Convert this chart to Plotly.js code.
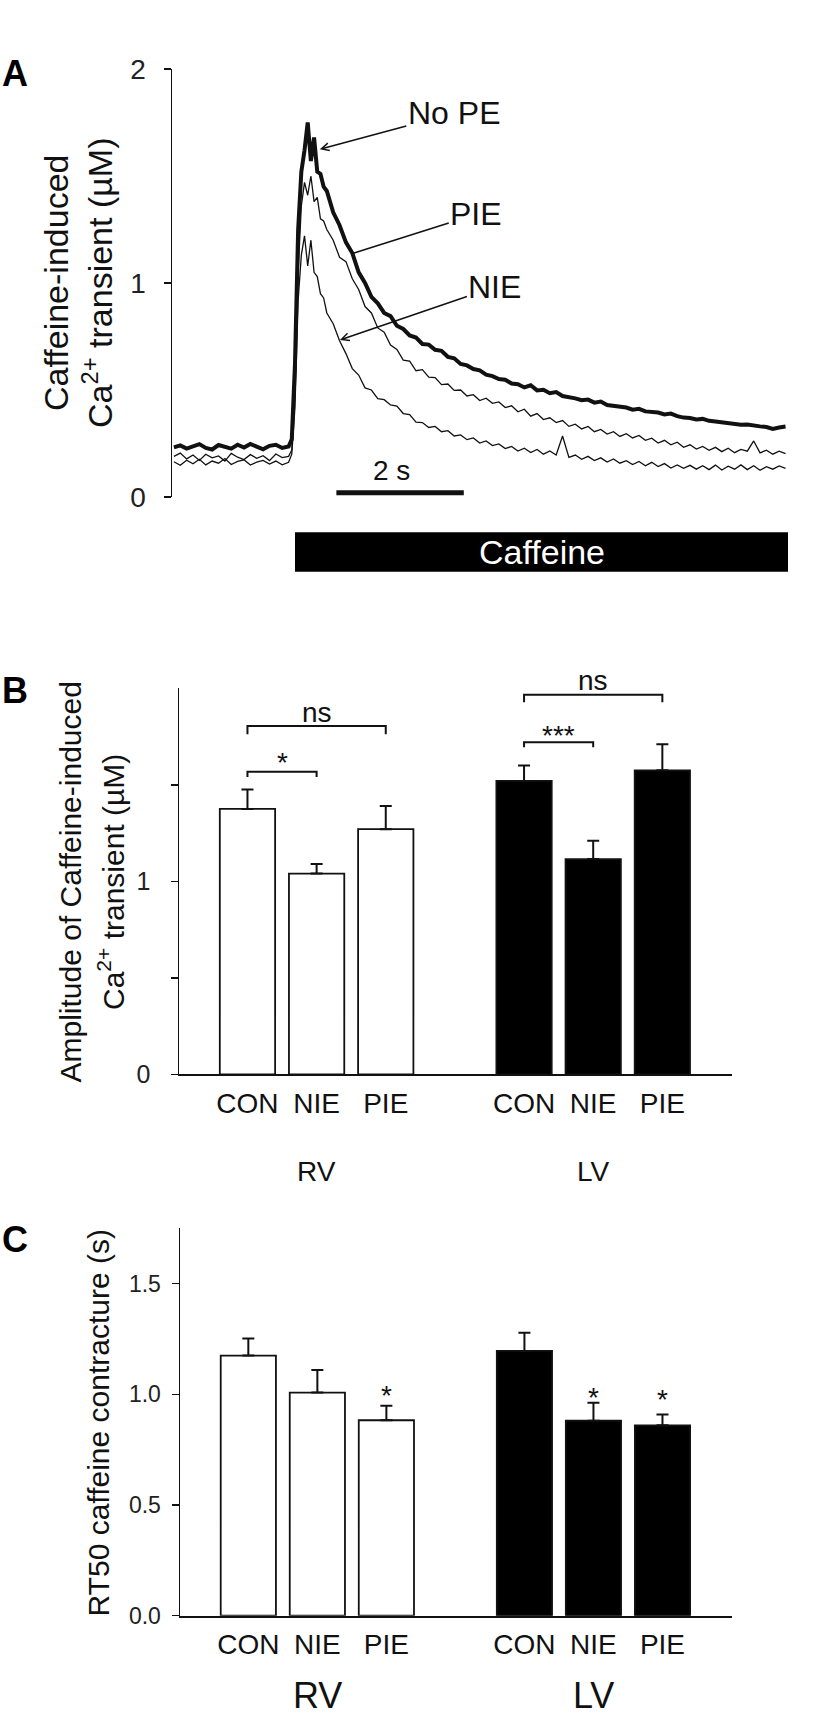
<!DOCTYPE html>
<html>
<head>
<meta charset="utf-8">
<script src="https://cdn.plot.ly/plotly-3.0.1.min.js"></script>
<style>html,body{margin:0;padding:0;background:#fff}</style>
</head>
<body>
<div id="fig" style="width:822px;height:1721px"></div>
<script>
// ---- Panel A: caffeine-induced Ca2+ transients (uM) ----
var timeSec = [0, 0.1, 0.2, 0.3, 0.4, 0.5, 0.6, 0.7, 0.8, 0.9, 1.0, 1.1, 1.2, 1.3, 1.4, 1.5, 1.6, 1.7, 1.8,
  1.85, 1.9, 1.95, 2.0, 2.05, 2.1, 2.15, 2.2, 2.25, 2.3, 2.35,
  2.4, 2.5, 2.6, 2.7, 2.8, 2.9, 3.0, 3.1, 3.2, 3.3, 3.4, 3.5, 3.6, 3.7, 3.8, 3.9,
  4.0, 4.1, 4.2, 4.3, 4.4, 4.5, 4.6, 4.7, 4.8, 4.9, 5.0, 5.1, 5.2, 5.3, 5.4, 5.5, 5.6, 5.7, 5.8, 5.9,
  6.0, 6.1, 6.2, 6.3, 6.4, 6.5, 6.6, 6.7, 6.8, 6.9, 7.0, 7.1, 7.2, 7.3, 7.4, 7.5, 7.6, 7.7, 7.8, 7.9,
  8.0, 8.1, 8.2, 8.3, 8.4, 8.5, 8.6, 8.7, 8.8, 8.9, 9.0, 9.1, 9.2, 9.3, 9.4, 9.5, 9.6];

var noPE = [0.232, 0.241, 0.226, 0.238, 0.247, 0.229, 0.222, 0.243, 0.236, 0.226, 0.244, 0.231, 0.248, 0.234, 0.223, 0.239, 0.244, 0.229, 0.236,
  0.27, 0.62, 1.25, 1.52, 1.62, 1.75, 1.57, 1.68, 1.52, 1.51, 1.45,
  1.43, 1.33, 1.27, 1.19, 1.14, 1.05, 1.0, 0.935, 0.905, 0.86, 0.845, 0.80, 0.785, 0.755, 0.745, 0.715,
  0.712, 0.688, 0.683, 0.655, 0.648, 0.622, 0.615, 0.598, 0.592, 0.572, 0.565, 0.551, 0.548, 0.53, 0.527, 0.512, 0.522, 0.498, 0.501, 0.485,
  0.49, 0.472, 0.468, 0.461, 0.452, 0.455, 0.441, 0.446, 0.43, 0.426, 0.421, 0.418, 0.408, 0.412, 0.4, 0.398, 0.395, 0.386, 0.39, 0.378,
  0.371, 0.369, 0.362, 0.365, 0.356, 0.353, 0.349, 0.346, 0.344, 0.338, 0.339, 0.333, 0.33, 0.327, 0.318, 0.325, 0.329];

var pie = [0.19, 0.205, 0.178, 0.196, 0.171, 0.2, 0.183, 0.192, 0.168, 0.204, 0.186, 0.175, 0.198, 0.181, 0.193, 0.17, 0.201, 0.184, 0.19,
  0.22, 0.5, 1.05, 1.36, 1.47, 1.41, 1.5, 1.38, 1.4, 1.3, 1.29,
  1.25, 1.2, 1.12, 1.1, 1.02, 0.97, 0.89, 0.86, 0.79, 0.77, 0.71, 0.69, 0.64, 0.635, 0.59, 0.595,
  0.56, 0.558, 0.525, 0.528, 0.498, 0.5, 0.472, 0.478, 0.451, 0.462, 0.438, 0.444, 0.418, 0.426, 0.398, 0.41, 0.378, 0.39, 0.362, 0.37,
  0.348, 0.357, 0.33, 0.34, 0.318, 0.33, 0.305, 0.316, 0.294, 0.305, 0.283, 0.296, 0.276, 0.288, 0.265, 0.275, 0.252, 0.265, 0.244, 0.256,
  0.232, 0.244, 0.224, 0.236, 0.218, 0.232, 0.212, 0.228, 0.207, 0.222, 0.214, 0.262, 0.206, 0.219, 0.2, 0.214, 0.203];

var nie = [0.165, 0.148, 0.172, 0.155, 0.176, 0.15, 0.168, 0.158, 0.18, 0.152, 0.166, 0.174, 0.149, 0.163, 0.171, 0.154, 0.168, 0.15, 0.162,
  0.2, 0.42, 0.92, 1.13, 1.22, 1.08, 1.2, 1.05, 1.03, 0.95, 0.93,
  0.86, 0.81, 0.73, 0.67, 0.6, 0.57, 0.51, 0.5, 0.46, 0.455, 0.43, 0.425, 0.39, 0.385, 0.35, 0.348,
  0.325, 0.33, 0.305, 0.31, 0.285, 0.29, 0.268, 0.276, 0.252, 0.262, 0.24, 0.248, 0.226, 0.236, 0.215, 0.228, 0.208, 0.222, 0.2, 0.215,
  0.196, 0.285, 0.185, 0.196, 0.176, 0.19, 0.17, 0.183, 0.163, 0.178, 0.158, 0.17, 0.152, 0.166, 0.146, 0.162, 0.142, 0.156, 0.135, 0.15,
  0.134, 0.148, 0.13, 0.146, 0.128, 0.149, 0.126, 0.144, 0.13, 0.15, 0.128, 0.146, 0.125, 0.142, 0.13, 0.145, 0.134];

// ---- Panels B and C: bar means and SEM ----
var groups = ['CON', 'NIE', 'PIE'];
var rvPos = [0, 1, 2];
var lvPos = [4, 5, 6];

var ampRV = [1.375, 1.04, 1.27];
var ampRVerr = [0.10, 0.05, 0.12];
var ampLV = [1.52, 1.115, 1.575];
var ampLVerr = [0.08, 0.095, 0.135];

var rtRV = [1.175, 1.008, 0.883];
var rtRVerr = [0.077, 0.102, 0.065];
var rtLV = [1.196, 0.881, 0.86];
var rtLVerr = [0.082, 0.081, 0.049];

var FONT = 'Liberation Sans, Arial, Helvetica, sans-serif';
var INK = '#111';
var W = 822, H = 1721;
function px(x) { return x / W; }
function py(y) { return 1 - y / H; }

function traceLine(y, name, width) {
  return { type: 'scatter', mode: 'lines', x: timeSec, y: y, name: name,
    xaxis: 'x', yaxis: 'y', line: { color: INK, width: width }, hoverinfo: 'skip' };
}

function bars(pos, vals, errs, fill, xa, ya) {
  return { type: 'bar', x: pos, y: vals, xaxis: xa, yaxis: ya, width: 0.8,
    marker: { color: fill, line: { color: INK, width: 1.8 } },
    error_y: { type: 'data', array: errs, arrayminus: [0, 0, 0], symmetric: false,
      color: INK, thickness: 2, width: 6 } };
}

var data = [
  traceLine(nie, 'NIE', 1.3),
  traceLine(pie, 'PIE', 1.3),
  traceLine(noPE, 'No PE', 4),
  bars(rvPos, ampRV, ampRVerr, '#fff', 'x2', 'y2'),
  bars(lvPos, ampLV, ampLVerr, '#000', 'x2', 'y2'),
  bars(rvPos, rtRV, rtRVerr, '#fff', 'x3', 'y3'),
  bars(lvPos, rtLV, rtLVerr, '#000', 'x3', 'y3')
];

// significance brackets in panel B (label height given in data units)
var brackets = [
  { from: 0, to: 1, y: 1.568, drop: 0.028, label: '*', ly: 1.616 },
  { from: 0, to: 2, y: 1.805, drop: 0.043, label: 'ns', ly: 1.874 },
  { from: 4, to: 5, y: 1.721, drop: 0.027, label: '***', ly: 1.754 },
  { from: 4, to: 6, y: 1.966, drop: 0.038, label: 'ns', ly: 2.038 }
];
// stars over panel C bars
var starsC = [{ x: 2, y: 0.994 }, { x: 5, y: 0.985 }, { x: 6, y: 0.976 }];

var shapes = [
  { type: 'rect', xref: 'paper', yref: 'paper', x0: px(295), x1: px(788), y0: py(571.7), y1: py(532.3),
    fillcolor: '#000', line: { width: 0 } },
  { type: 'line', xref: 'x', yref: 'y', x0: 2.55, x1: 4.55, y0: 0.02, y1: 0.02,
    line: { color: INK, width: 5 } }
];
brackets.forEach(function (b) {
  shapes.push({ type: 'path', xref: 'x2', yref: 'y2',
    path: 'M' + b.from + ',' + (b.y - b.drop) + ' L' + b.from + ',' + b.y +
          ' L' + b.to + ',' + b.y + ' L' + b.to + ',' + (b.y - b.drop),
    line: { color: INK, width: 2 } });
});

function note(o) {
  return Object.assign({ showarrow: false, xanchor: 'center', yanchor: 'middle' }, o);
}

var annotations = [
  { text: 'A', y: 73.5 }, { text: 'B', y: 690 }, { text: 'C', y: 1239 }
].map(function (a) {
  return note({ xref: 'paper', yref: 'paper', x: px(15), y: py(a.y), text: a.text,
    font: { size: 36, weight: 'bold', color: '#000' } });
});

function ytitle(text, x, y, size) {
  annotations.push(note({ xref: 'paper', yref: 'paper', x: px(x), y: py(y), text: text, textangle: -90,
    font: { size: size, color: INK } }));
}
ytitle('Caffeine-induced', 56, 283, 34);
ytitle('Ca<sup>2+</sup> transient (µM)', 98, 283, 34);
ytitle('Amplitude of Caffeine-induced', 69.5, 882, 30);
ytitle('Ca<sup>2+</sup> transient (µM)', 111, 882, 30);
ytitle('RT50 caffeine contracture (s)', 97.5, 1423, 30);

// trace labels with pointers
annotations.push(
  { xref: 'x', yref: 'y', x: 2.29, y: 1.625, ax: 134, ay: -36, text: 'No PE', showarrow: true,
    arrowhead: 5, arrowsize: 1, arrowwidth: 1.5, arrowcolor: INK, font: { size: 32, color: INK } },
  { xref: 'x', yref: 'y', x: 2.815, y: 1.139, ax: 123, ay: -39, text: 'PIE', showarrow: true,
    arrowhead: 0, arrowwidth: 1.5, arrowcolor: INK, font: { size: 32, color: INK } },
  { xref: 'x', yref: 'y', x: 2.606, y: 0.734, ax: 155, ay: -53, text: 'NIE', showarrow: true,
    arrowhead: 5, arrowsize: 1, arrowwidth: 1.5, arrowcolor: INK, font: { size: 32, color: INK } },
  note({ xref: 'x', yref: 'y', x: 3.42, y: 0.126, text: '2 s', font: { size: 28, color: INK } }),
  note({ xref: 'paper', yref: 'paper', x: px(541.5), y: py(552), text: 'Caffeine',
    font: { size: 34, color: '#fff' } })
);

brackets.forEach(function (b) {
  // keep the anchor inside the axis range so the label is not hidden
  var inRange = Math.min(b.ly, 1.995);
  annotations.push(note({ xref: 'x2', yref: 'y2', x: (b.from + b.to) / 2, y: inRange,
    yshift: (b.ly - inRange) * 194.7, text: b.label, font: { size: 28, color: INK } }));
});
starsC.forEach(function (s) {
  annotations.push(note({ xref: 'x3', yref: 'y3', x: s.x, y: s.y, text: '*',
    font: { size: 28, color: INK } }));
});

// ventricle group labels
annotations.push(
  note({ xref: 'x2', yref: 'paper', x: 1, y: py(1171), text: 'RV', font: { size: 28, color: INK } }),
  note({ xref: 'x2', yref: 'paper', x: 5, y: py(1171), text: 'LV', font: { size: 28, color: INK } }),
  note({ xref: 'x3', yref: 'paper', x: 1, y: py(1695), text: 'RV', font: { size: 36, color: INK } }),
  note({ xref: 'x3', yref: 'paper', x: 5, y: py(1695), text: 'LV', font: { size: 36, color: INK } })
);

var yBase = { showline: true, linewidth: 1.5, linecolor: INK, ticks: 'outside', ticklen: 7,
  tickwidth: 1.5, tickcolor: INK, showgrid: false, zeroline: false, fixedrange: true };
var xBars = { showline: true, linewidth: 2, linecolor: INK, ticks: '', showgrid: false,
  zeroline: false, range: [-0.99, 7.0], tickvals: rvPos.concat(lvPos),
  ticktext: groups.concat(groups), tickfont: { size: 28, color: INK }, ticklabelstandoff: 3,
  fixedrange: true };

var layout = {
  width: W, height: H,
  margin: { l: 0, r: 0, t: 0, b: 0 },
  paper_bgcolor: '#fff', plot_bgcolor: 'rgba(0,0,0,0)',
  font: { family: FONT, color: INK },
  showlegend: false,
  xaxis: { domain: [px(172), px(797)], range: [-0.03, 9.78], visible: false, anchor: 'y', fixedrange: true },
  yaxis: Object.assign({}, yBase, { domain: [py(497), py(69)], range: [0, 2], anchor: 'x',
    tickvals: [0, 1, 2], tickfont: { size: 28, color: '#222' }, ticklabelstandoff: 12 }),
  xaxis2: Object.assign({}, xBars, { domain: [px(179), px(731.5)], anchor: 'y2' }),
  yaxis2: Object.assign({}, yBase, { domain: [py(1074.3), py(688.3)], range: [0, 2], anchor: 'x2',
    tickvals: [0, 1], tickfont: { size: 25, color: '#222' }, ticklabelstandoff: 15,
    minor: { tickmode: 'array', tickvals: [0.5, 1.5], ticks: 'outside', ticklen: 7, tickwidth: 1.5, tickcolor: INK } }),
  xaxis3: Object.assign({}, xBars, { domain: [px(180), px(731.5)], anchor: 'y3' }),
  yaxis3: Object.assign({}, yBase, { domain: [py(1615.7), py(1228.3)], range: [0, 1.75], anchor: 'x3',
    tickvals: [0, 0.5, 1, 1.5], ticktext: ['0.0', '0.5', '1.0', '1.5'], tickfont: { size: 23, color: '#222' },
    ticklabelstandoff: 6 }),
  shapes: shapes,
  annotations: annotations
};

Plotly.newPlot('fig', data, layout, { displayModeBar: false, staticPlot: true });
</script>
</body>
</html>
